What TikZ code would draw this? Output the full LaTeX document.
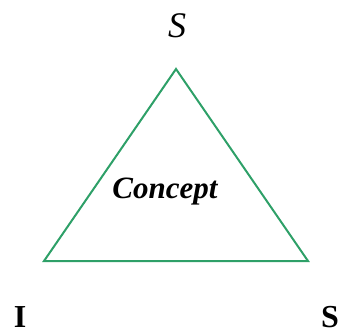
\documentclass[tikz,border=0pt]{standalone}
\usepackage{fontspec}
\setmainfont{Liberation Serif}
\definecolor{edgegreen}{RGB}{46,160,104}
\begin{document}
\begin{tikzpicture}[
  x=1pt, y=-1pt,
  every node/.style={font=\fontsize{31}{34}\selectfont, inner sep=0pt},
  corner/.style={font=\fontsize{32}{36}\selectfont\bfseries},
  side/.style={draw=edgegreen, line width=2pt, line join=miter}
]
  \useasboundingbox (0,0) rectangle (339,332);
  \coordinate (top) at (176,69);
  \coordinate (left) at (44,261);
  \coordinate (right) at (308,261);

  \draw[side] (top) -- (left) -- (right) -- cycle;

  \node[font=\fontsize{36}{40}\selectfont\itshape] (subject) at (177,26) {S};
  \node (concept) at (165,192) {\bfseries\itshape Concept};
  \node[corner] (interp) at (20,317) {I};
  \node[corner, anchor=west] (sign) at (321,317) {S};
\end{tikzpicture}
\end{document}
